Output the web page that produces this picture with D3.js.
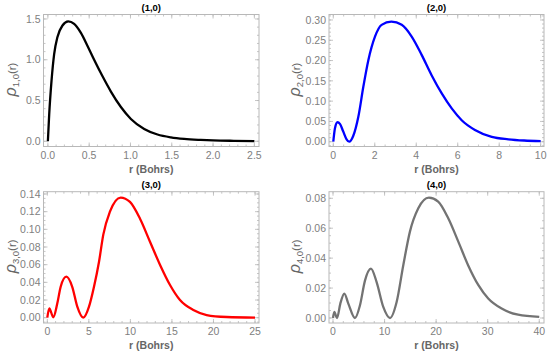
<!DOCTYPE html>
<html><head><meta charset="utf-8">
<script src="https://cdn.jsdelivr.net/npm/d3@7"></script>
<style>body{margin:0;background:#fff}svg{display:block}</style>
</head><body>
<svg id="c" width="550" height="359"></svg>
<script>
// ---- data ----
const titles = ["(1,0)", "(2,0)", "(3,0)", "(4,0)"];
const subs = ["1,0", "2,0", "3,0", "4,0"];
const colors = ["#000000", "#0000ff", "#ff0000", "#737373"];

const r10 =   [0, 0.016, 0.044, 0.076, 0.116, 0.177, 0.246, 0.318, 0.40, 0.48, 0.56, 0.66, 0.763, 0.884, 1.005, 1.166, 1.327, 1.489, 1.65, 1.85, 2.0, 2.25, 2.5];
const rho10 = [0, 0.33, 0.74, 1.07, 1.28, 1.42, 1.47, 1.44, 1.33, 1.17, 1.00, 0.80, 0.61, 0.42, 0.274, 0.151, 0.083, 0.048, 0.029, 0.017, 0.011, 0.006, 0.003];

const r20 =   [0, 0.08, 0.2, 0.32, 0.48, 0.64, 0.77, 0.96, 1.21, 1.45, 1.69, 2.01, 2.33, 2.80, 3.30, 3.78, 4.26, 4.74, 5.23, 5.71, 6.19, 6.83, 7.64, 8.44, 9.2, 10];
const rho20 = [0, 0.033, 0.048, 0.044, 0.025, 0.006, 0, 0.014, 0.062, 0.136, 0.201, 0.259, 0.288, 0.296, 0.288, 0.259, 0.214, 0.164, 0.119, 0.082, 0.053, 0.029, 0.012, 0.006, 0.003, 0.0015];

const r30 =   [0, 0.24, 0.72, 1.2, 1.61, 2.29, 3.0, 3.61, 4.33, 5.02, 5.62, 6.22, 6.74, 7.54, 8.83, 9.95, 11.16, 12.36, 13.56, 14.77, 15.97, 17.58, 19.18, 21.6, 25];
const rho30 = [0, 0.0106, 0.0005, 0.016, 0.035, 0.0464, 0.035, 0.0125, 0, 0.0125, 0.035, 0.063, 0.094, 0.12, 0.136, 0.131, 0.112, 0.086, 0.060, 0.037, 0.020, 0.0087, 0.003, 0.0008, 0.0001];

const r40 =   [0, 0.26, 0.78, 1.42, 2.2, 2.97, 4.26, 5.23, 6.2, 7.36, 8.46, 9.75, 11.05, 12.34, 13.63, 14.92, 16.54, 18.6, 20.4, 22.35, 24.3, 26.2, 28.2, 30.1, 32.7, 35.9, 40];
const rho40 = [0, 0.004, 0, 0.0096, 0.0163, 0.0096, 0, 0.0085, 0.025, 0.033, 0.024, 0.0074, 0, 0.0107, 0.0353, 0.0577, 0.0733, 0.0804, 0.0778, 0.0666, 0.051, 0.0353, 0.0219, 0.013, 0.0063, 0.0022, 0.0007];

const xTicks = [[0, 0.5, 1.0, 1.5, 2.0, 2.5], [0, 2, 4, 6, 8, 10], [0, 5, 10, 15, 20, 25], [0, 10, 20, 30, 40]];
const yTicks = [[0, 0.5, 1.0, 1.5], [0, 0.05, 0.10, 0.15, 0.20, 0.25, 0.30], [0, 0.02, 0.04, 0.06, 0.08, 0.10, 0.12, 0.14], [0, 0.02, 0.04, 0.06, 0.08]];
const xMinorStep = [0.1, 0.5, 1, 2];
const yMinorStep = [0.1, 0.01, 0.005, 0.005];
const xFmt = [d3.format(".1f"), d3.format("d"), d3.format("d"), d3.format("d")];
const yFmt = [d3.format(".1f"), d3.format(".2f"), d3.format(".2f"), d3.format(".2f")];

const seriesR = [r10, r20, r30, r40];
const seriesRho = [rho10, rho20, rho30, rho40];

// ---- layout ----
const frames = [
  {x0: 43.5, x1: 259, y0: 14.5, y1: 146.5, xd: [-0.053, 2.556], yd: [-0.064, 1.555]},
  {x0: 329, x1: 544, y0: 14.5, y1: 146.5, xd: [-0.207, 10.16], yd: [-0.0118, 0.3135]},
  {x0: 43.5, x1: 259, y0: 191.7, y1: 323, xd: [-0.457, 25.48], yd: [-0.006, 0.1426]},
  {x0: 329, x1: 544, y0: 191.7, y1: 323, xd: [-0.776, 40.92], yd: [-0.00335, 0.0844]}
];
const font = "'Liberation Sans', Arial, sans-serif";
const svg = d3.select("#c");
const frameCol = "#b8b8b8", labCol = "#808080";

frames.forEach((f, i) => {
  const x = d3.scaleLinear().domain(f.xd).range([f.x0, f.x1]);
  const y = d3.scaleLinear().domain(f.yd).range([f.y1, f.y0]);
  const g = svg.append("g");

  // minor ticks
  const xm = d3.range(Math.ceil(f.xd[0] / xMinorStep[i]), Math.floor(f.xd[1] / xMinorStep[i]) + 1).map(k => k * xMinorStep[i]);
  const ym = d3.range(Math.ceil(f.yd[0] / yMinorStep[i]), Math.floor(f.yd[1] / yMinorStep[i]) + 1).map(k => k * yMinorStep[i]);
  const tk = g.append("g").attr("stroke", frameCol).attr("stroke-width", 0.8);
  xm.forEach(v => {
    tk.append("line").attr("x1", x(v)).attr("x2", x(v)).attr("y1", f.y1).attr("y2", f.y1 - 2);
    tk.append("line").attr("x1", x(v)).attr("x2", x(v)).attr("y1", f.y0).attr("y2", f.y0 + 2);
  });
  ym.forEach(v => {
    tk.append("line").attr("y1", y(v)).attr("y2", y(v)).attr("x1", f.x0).attr("x2", f.x0 + 2);
    tk.append("line").attr("y1", y(v)).attr("y2", y(v)).attr("x1", f.x1).attr("x2", f.x1 - 2);
  });
  xTicks[i].forEach(v => {
    tk.append("line").attr("x1", x(v)).attr("x2", x(v)).attr("y1", f.y1).attr("y2", f.y1 - 4);
    tk.append("line").attr("x1", x(v)).attr("x2", x(v)).attr("y1", f.y0).attr("y2", f.y0 + 4);
  });
  yTicks[i].forEach(v => {
    tk.append("line").attr("y1", y(v)).attr("y2", y(v)).attr("x1", f.x0).attr("x2", f.x0 + 4);
    tk.append("line").attr("y1", y(v)).attr("y2", y(v)).attr("x1", f.x1).attr("x2", f.x1 - 4);
  });

  // frame
  g.append("rect").attr("x", f.x0).attr("y", f.y0).attr("width", f.x1 - f.x0).attr("height", f.y1 - f.y0)
    .attr("fill", "none").attr("stroke", frameCol).attr("stroke-width", 1);

  // tick labels
  xTicks[i].forEach(v => {
    g.append("text").attr("x", x(v)).attr("y", f.y1 + 12).attr("text-anchor", "middle")
      .attr("font-family", font).attr("font-size", 10.5).attr("fill", labCol).text(xFmt[i](v));
  });
  yTicks[i].forEach(v => {
    g.append("text").attr("x", f.x0 - 3).attr("y", y(v) + 3.7).attr("text-anchor", "end")
      .attr("font-family", font).attr("font-size", 10.5).attr("fill", labCol).text(yFmt[i](v));
  });

  // title
  g.append("text").attr("x", (f.x0 + f.x1) / 2).attr("y", f.y0 - 3.5).attr("text-anchor", "middle")
    .attr("font-family", font).attr("font-size", 9.5).attr("font-weight", "bold").attr("fill", "#000").text(titles[i]);

  // x label
  g.append("text").attr("x", (f.x0 + f.x1) / 2).attr("y", f.y1 + 26).attr("text-anchor", "middle")
    .attr("font-family", font).attr("font-size", 10.5).attr("font-weight", "bold").attr("fill", "#666").text("r (Bohrs)");

  // y label
  const lx = (i % 2 === 0) ? 15.5 : 300;
  const ly = (f.y0 + f.y1) / 2 - 1;
  const yl = g.append("text").attr("transform", `translate(${lx},${ly}) rotate(-90)`).attr("text-anchor", "middle")
    .attr("font-family", font).attr("fill", "#666");
  yl.append("tspan").attr("font-size", 16).attr("font-style", "italic").text("ρ");
  yl.append("tspan").attr("font-size", 9.5).attr("dy", 3).text(subs[i]);
  yl.append("tspan").attr("font-size", 11.5).attr("dy", -3).text("(r)");

  // curve
  const pts = seriesR[i].map((r, k) => [r, seriesRho[i][k]]);
  const line = d3.line().x(d => x(d[0])).y(d => y(d[1])).curve(d3.curveMonotoneX);
  g.append("path").datum(pts).attr("d", line).attr("fill", "none")
    .attr("stroke", colors[i]).attr("stroke-width", 2.3).attr("stroke-linejoin", "round");
});
</script>
</body></html>
